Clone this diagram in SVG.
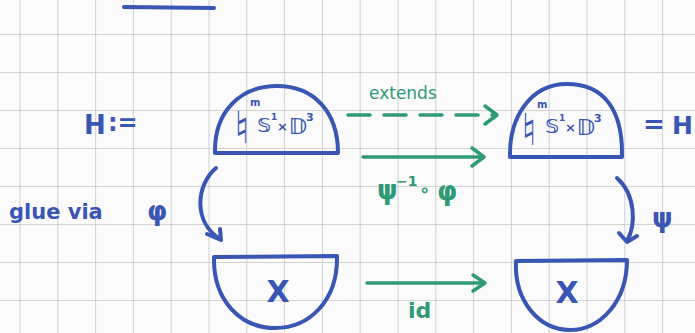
<svg xmlns="http://www.w3.org/2000/svg" width="695" height="333" viewBox="0 0 695 333">
<style>
.ink{fill:none;stroke:#3a56b5;stroke-width:4;stroke-linecap:round;stroke-linejoin:round}
.gr{fill:none;stroke:#2f9a76;stroke-width:3.5;stroke-linecap:round;stroke-linejoin:round}
.bt{fill:#3a56b5;font-family:"DejaVu Sans","Liberation Sans",sans-serif;font-weight:bold}
.gt{fill:#2f9a76;font-family:"DejaVu Sans","Liberation Sans",sans-serif}
</style>
<defs>
<pattern id="grid" x="19.5" y="34" width="37.8" height="38" patternUnits="userSpaceOnUse">
<path d="M0,0 V38 M0,0 H37.8" fill="none" stroke="#c6c6c6" stroke-width="1.6"/>
</pattern>
</defs>
<rect width="695" height="333" fill="#fbfbfb"/>
<rect width="695" height="333" fill="url(#grid)"/>
<line x1="124" y1="7" x2="214" y2="8" class="ink"/>

<g id="H-def">
<text x="84" y="134" class="bt" font-size="26">H</text>
<text x="108" y="131" class="bt" font-size="24">:=</text>
</g>

<g id="top-left">
<path class="ink" d="M215,153 C214,112 240,86 277,86 C314,86 338,112 338,153 Z"/>
<text x="234" y="143" class="bt" font-size="44">♮</text>
<text x="250" y="106" class="bt" font-size="10">m</text>
<text x="257" y="132" class="bt" font-size="20">𝕊</text>
<text x="271" y="120" class="bt" font-size="9">1</text>
<text x="277" y="131" class="bt" font-size="13">×</text>
<text x="289" y="134" class="bt" font-size="22">𝔻</text>
<text x="306" y="121" class="bt" font-size="11">3</text>
</g>

<g id="top-right">
<path class="ink" d="M510,157 C509,118 530,84 567,84 C604,84 623,110 622,157 Z"/>
<text x="521" y="145" class="bt" font-size="44">♮</text>
<text x="537" y="108" class="bt" font-size="10">m</text>
<text x="545" y="133" class="bt" font-size="20">𝕊</text>
<text x="559" y="121" class="bt" font-size="9">1</text>
<text x="565" y="132" class="bt" font-size="13">×</text>
<text x="577" y="135" class="bt" font-size="22">𝔻</text>
<text x="594" y="122" class="bt" font-size="11">3</text>
<text x="643" y="133" class="bt" font-size="26">=</text>
<text x="672" y="134" class="bt" font-size="25">H</text>
</g>

<g id="bottom-left">
<path class="ink" d="M214,257 L337,256 C338,300 310,328 275,328 C240,328 213,300 214,257 Z"/>
<text x="278" y="302" class="bt" font-size="30" text-anchor="middle">X</text>
</g>

<g id="bottom-right">
<path class="ink" d="M516,261 L627,260 C627,302 600,330 570,330 C540,330 514,302 516,261 Z"/>
<text x="567" y="303" class="bt" font-size="30" text-anchor="middle">X</text>
</g>

<g id="connectors">
<path class="gr" d="M348,115 H496" stroke-dasharray="22 14"/>
<path class="gr" d="M485,106 L497,115 L485,124"/>
<path class="gr" d="M363,157 H483"/>
<path class="gr" d="M472,148 L484,157 L472,166"/>
<path class="gr" d="M367,283 H484"/>
<path class="gr" d="M473,275 L485,283 L473,291"/>
<path class="ink" d="M216,168 C196,185 193,222 220,239"/>
<path class="ink" d="M207,234 L221,240 L220,229"/>
<path class="ink" d="M617,178 C636,195 636,225 627,241"/>
<path class="ink" d="M619,233 L627,242 L637,236"/>
</g>

<g id="labels">
<text x="369" y="99" class="gt" font-size="17">extends</text>
<text x="377" y="199" class="gt" font-size="26" font-weight="bold">ψ</text>
<text x="396" y="186" class="gt" font-size="14" font-weight="bold">−1</text>
<text x="419" y="196" class="gt" font-size="18" font-weight="bold">∘</text>
<text x="437" y="200" class="gt" font-size="26" font-weight="bold">φ</text>
<text x="408" y="318" class="gt" font-size="22" font-weight="bold">id</text>
<text x="9" y="219" class="bt" font-size="21">glue via</text>
<text x="147" y="220" class="bt" font-size="26">φ</text>
<text x="652" y="227" class="bt" font-size="26">ψ</text>
</g>
</svg>
